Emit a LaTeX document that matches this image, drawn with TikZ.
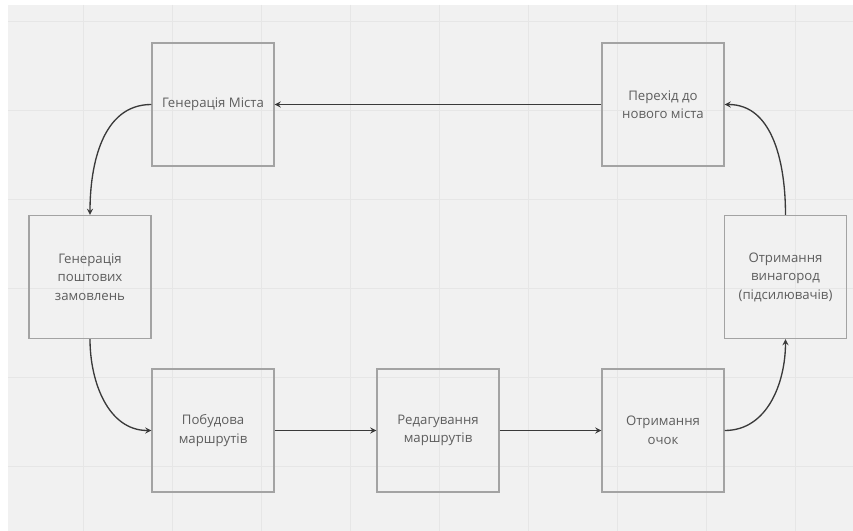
\documentclass[tikz,border=0pt]{standalone}
\usepackage{fontspec}
\setmainfont{Open Sans}
\definecolor{bggray}{HTML}{F1F1F1}
\definecolor{gridgray}{HTML}{E6E6E6}
\definecolor{boxgray}{HTML}{A3A3A3}
\definecolor{txtgray}{HTML}{5E5E5E}
\definecolor{linegray}{HTML}{3A3A3A}
\begin{document}
\begin{tikzpicture}[>=stealth,x=0.75pt,y=-0.75pt,
	blok/.style={draw=boxgray,line width=1.1pt,fill=none,minimum width=91.5pt,minimum height=92.2pt,inner sep=0pt,align=center,text=txtgray,font=\fontsize{9.9}{13.9}\selectfont},
	lnk/.style={->,draw=linegray,line width=1pt}]
		\useasboundingbox (0,0) rectangle (853,531);
		\fill[white] (0,0) rectangle (853,531);
		\fill[bggray] (8,5) rectangle (853,531);
		\foreach \gx in {83,172,...,800} \draw[gridgray,line width=0.6pt] (\gx,5) -- (\gx,531);
		\foreach \gy in {21,110,...,470} \draw[gridgray,line width=0.6pt] (8,\gy) -- (853,\gy);
		\node[blok] (misto) at (213,104.5) {Генерація Міста};
		\node[blok] (perehid) at (663,104.5) {Перехід до\\нового міста};
		\node[blok] (zamov) at (90,277) {Генерація\\поштових\\замовлень};
		\node[blok] (pobud) at (213,430.5) {Побудова\\маршрутів};
		\node[blok] (redag) at (438,430.5) {Редагування\\маршрутів};
		\node[blok] (ochky) at (663,430.5) {Отримання\\очок};
		\node[blok] (vynag) at (785.5,277) {Отримання\\винагород\\(підсилювачів)};
		\draw[lnk] (perehid.west) -- (misto.east);
		\draw[lnk] (misto.west) to[out=180,in=90] (zamov.north);
		\draw[lnk] (zamov.south) to[out=-90,in=180] (pobud.west);
		\draw[lnk] (pobud.east) -- (redag.west);
		\draw[lnk] (redag.east) -- (ochky.west);
		\draw[lnk] (ochky.east) to[out=0,in=-90] (vynag.south);
		\draw[lnk] (vynag.north) to[out=90,in=0] (perehid.east);
		\end{tikzpicture}
\end{document}
